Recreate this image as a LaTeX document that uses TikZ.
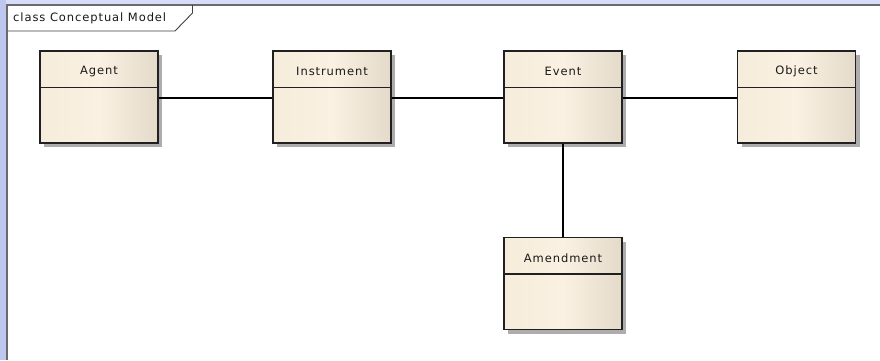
\documentclass[tikz,border=0pt]{standalone}
\usepackage{fontspec}
\setmainfont{DejaVu Sans}[LetterSpace=8]
\usetikzlibrary{shadows}
\definecolor{stripL}{HTML}{BEC8EF}
\definecolor{stripT}{HTML}{D5DDF8}
\definecolor{frameline}{HTML}{6A6A6A}
\definecolor{clsL}{HTML}{F6ECDB}
\definecolor{clsM}{HTML}{FAF1E2}
\definecolor{clsR}{HTML}{E4DACA}
\definecolor{clsedge}{HTML}{202020}
\tikzset{
  classbox/.style={rectangle, draw=clsedge, line width=1.2pt,
    minimum width=118pt, minimum height=92pt, inner sep=0pt,
    left color=clsL, right color=clsR, middle color=clsM,
    drop shadow={shadow xshift=4pt, shadow yshift=-4pt, fill=black!40, opacity=0.8}},
  classname/.style={font=\fontsize{11.5}{13}\selectfont, text=black!90, inner sep=0pt},
  divider/.style={draw=clsedge, line width=1.2pt},
  assoc/.style={draw=black, line width=1.2pt},
}
\begin{document}
\begin{tikzpicture}[x=1pt, y=-1pt]
  % canvas and window edges
  \useasboundingbox (0,0) rectangle (880,360);
  \fill[white] (0,0) rectangle (880,360);
  \fill[stripT] (0,0) rectangle (880,4);
  \fill[stripL] (0,0) rectangle (6,360);
  \fill[frameline] (6,4) rectangle (880,6);
  \fill[frameline] (6,4) rectangle (8,360);

  % diagram frame tag
  \draw[draw=black!75, line width=0.9pt] (192.5,5) -- (192.5,13) -- (175,31) -- (8,31);
  \node[classname, anchor=west] (frametag) at (13,18) {class Conceptual Model};

  % classes
  \node[classbox] (agent) at (99,97) {};
  \node[classbox] (instrument) at (332,97) {};
  \node[classbox] (event) at (563,97) {};
  \node[classbox] (object) at (796.5,97) {};
  \node[classbox] (amendment) at (563,283.5) {};

  \foreach \c/\t in {agent/Agent, instrument/Instrument, event/Event, object/Object, amendment/Amendment}{
    \node[classname] (\c-name) at ([yshift=-21pt]\c.north) {\t};
    \draw[divider] ([yshift=-37pt]\c.north west) -- ([yshift=-37pt]\c.north east);
  }

  % associations
  \draw[assoc] ([yshift=-1pt]agent.east) -- ([yshift=-1pt]instrument.west);
  \draw[assoc] ([yshift=-1pt]instrument.east) -- ([yshift=-1pt]event.west);
  \draw[assoc] ([yshift=-1pt]event.east) -- ([yshift=-1pt]object.west);
  \draw[assoc] (event.south) -- (amendment.north);
\end{tikzpicture}
\end{document}
